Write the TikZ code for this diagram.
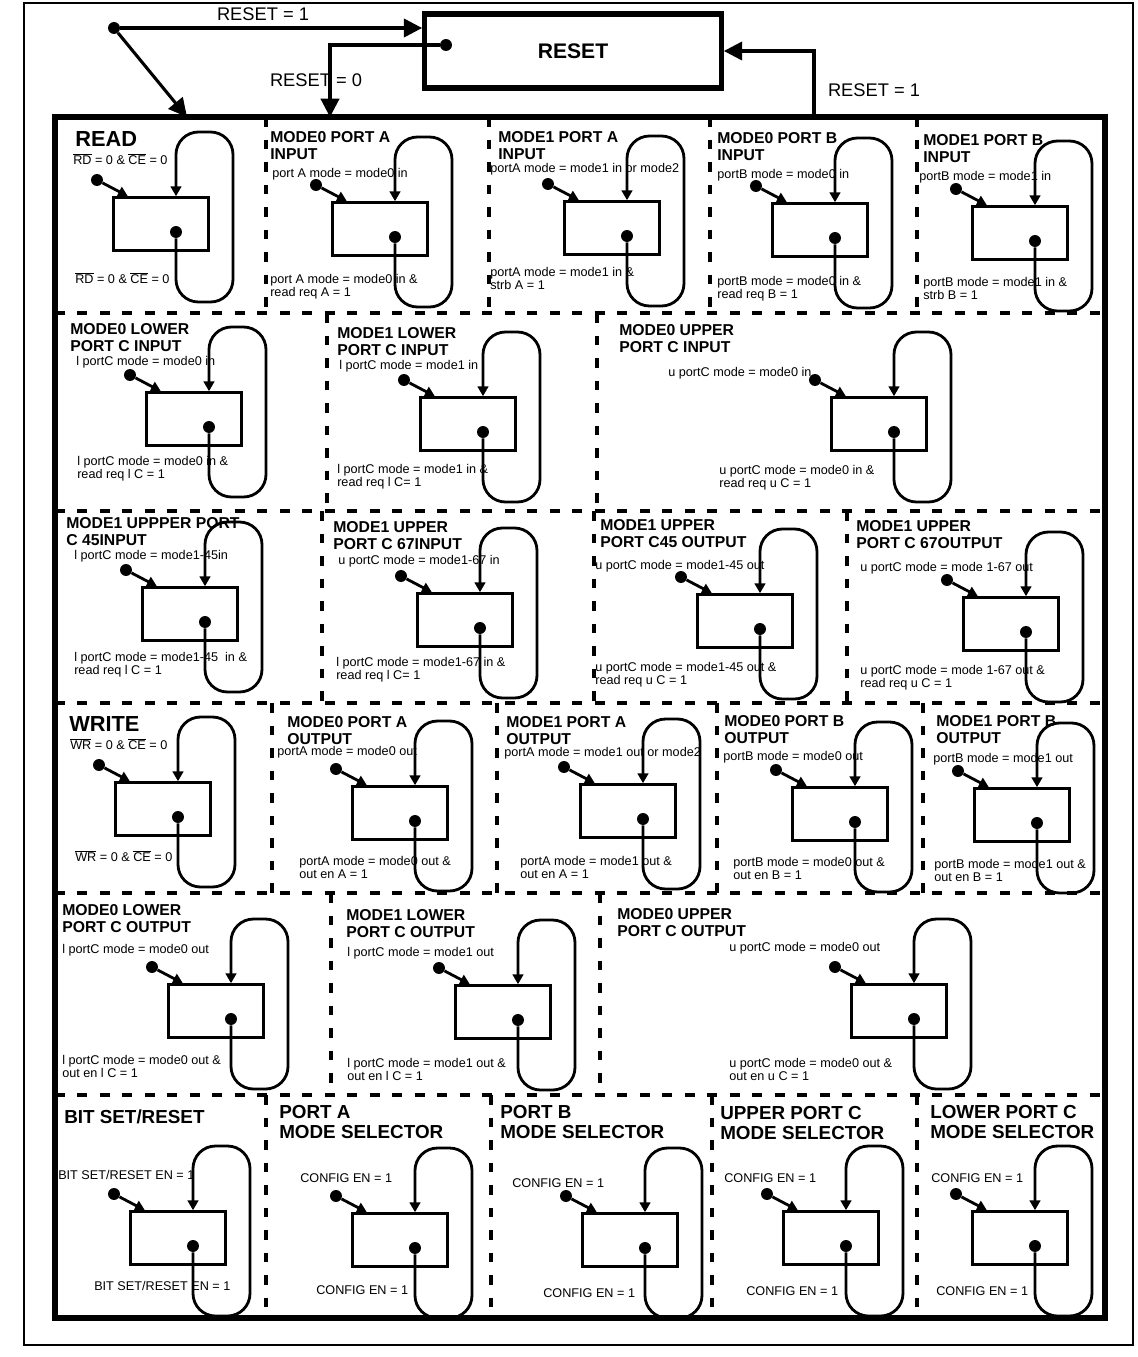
\documentclass[tikz,border=0pt]{standalone}
\usepackage{fontspec}
\setmainfont{Liberation Sans}
\usetikzlibrary{arrows.meta}
\begin{document}
\begin{tikzpicture}[x=0.025cm, y=-0.025cm, >={Triangle[length=7pt, width=7.5pt]},
    st/.style={draw, line width=2pt, minimum width=67.5pt, minimum height=37.5pt, inner sep=0pt},
    dot/.style={circle, fill, inner sep=0pt, minimum size=8.5pt},
    tr/.style={->, line width=2pt},
    lp/.style={tr, rounded corners=16pt},
    rarr/.style={-{Triangle[length=13pt, width=13pt]}, line width=2.2pt},
    cnd/.style={anchor=north west, inner sep=0pt, align=left, font=\fontsize{9}{9.5}\selectfont},
    ttl/.style={cnd, font=\bfseries\fontsize{11.2}{12}\selectfont},
    seltl/.style={cnd, font=\bfseries\fontsize{13.4}{14.2}\selectfont},
    hd/.style={cnd, font=\bfseries\fontsize{15.5}{16}\selectfont},
    rtag/.style={font=\fontsize{13}{13}\selectfont, inner sep=0pt},
    part/.style={line width=3.5pt, dash pattern=on 7pt off 9pt}]
  \useasboundingbox (0,0) rectangle (1138,1357);
  \draw[line width=1.2pt] (24,3) rectangle (1133,1345);
  \foreach \y in {313,511,703,893,1095} \draw[part] (55,\y) -- (1105,\y);
  \foreach \x in {266,489,710,917} \draw[part] (\x,117) -- (\x,313);
  \foreach \x in {327,597} \draw[part] (\x,313) -- (\x,511);
  \foreach \x in {322,594,847} \draw[part] (\x,511) -- (\x,703);
  \foreach \x in {272,497,717,923} \draw[part] (\x,703) -- (\x,893);
  \foreach \x in {331,600} \draw[part] (\x,893) -- (\x,1095);
  \foreach \x in {266,491,712,917} \draw[part] (\x,1095) -- (\x,1318);
  \draw[line width=3.6pt] (55,117) rectangle (1105,1318);

  \node[draw, line width=3.6pt, minimum width=211pt, minimum height=52.6pt,
        font=\bfseries\fontsize{15}{15}\selectfont] (rst) at (573,51) {RESET};
  \node[dot] (r0) at (446,45) {};
  \node[dot] (r1) at (114,28) {};
  \coordinate (f1) at (187,117);
  \coordinate (f2) at (330,117);
  \coordinate (f3) at (814,117);
  \draw[rarr] (r1) -- (r1 -| rst.west);
  \draw[rarr] (r1) -- (f1);
  \draw[rarr] (r0) -| (f2);
  \draw[rarr] (f3) |- (rst.east);
  \node[rtag] (g1) at (263,14) {RESET = 1};
  \node[rtag] (g2) at (316,80) {RESET = 0};
  \node[rtag] (g3) at (874,90) {RESET = 1};

  \foreach \n/\x/\y in {1/161/224, 2/380/229, 3/612/228, 4/820/230, 5/1020/233,
      6/194/419, 7/468/424, 8/879/424, 9/190/614, 10/465/620, 11/745/621, 12/1011/624,
      13/163/809, 14/400/813, 15/628/811, 16/840/814, 17/1022/815,
      18/216/1011, 19/503/1012, 20/899/1011,
      21/178/1238, 22/400/1240, 23/630/1240, 24/831/1238, 25/1020/1238}{
    \node[st] (s\n) at (\x,\y) {};
    \node[dot] (e\n) at (\x-64,\y-44) {};
    \node[dot] (i\n) at (\x+15,\y+8) {};
    \draw[tr] (e\n) -- (s\n.140);
    \draw[lp] (i\n) -- ++(0,70) -- ++(57,0) -- ++(0,-170) -- ++(-57,0) -- (i\n |- s\n.north);
  }

  \node[hd] (t1) at (75,131) {READ};
  \node[cnd] (a1) at (73,153) {$\overline{\mbox{RD}}$ = 0 \& $\overline{\mbox{CE}}$ = 0};
  \node[cnd] (b1) at (75,272) {$\overline{\mbox{RD}}$ = 0 \& $\overline{\mbox{CE}}$ = 0};
  \node[ttl] (t2) at (270,131) {MODE0 PORT A\\INPUT};
  \node[cnd] (a2) at (272,168) {port A mode = mode0 in};
  \node[cnd] (b2) at (270,274) {port A mode = mode0 in \&\\read req A = 1};
  \node[ttl] (t3) at (498,131) {MODE1 PORT A\\INPUT};
  \node[cnd] (a3) at (490,163) {portA mode = mode1 in or mode2};
  \node[cnd] (b3) at (490,267) {portA mode = mode1 in \&\\strb A = 1};
  \node[ttl] (t4) at (717,132) {MODE0 PORT B\\INPUT};
  \node[cnd] (a4) at (717,169) {portB mode = mode0 in};
  \node[cnd] (b4) at (717,276) {portB mode = mode0 in \&\\read req B = 1};
  \node[ttl] (t5) at (923,134) {MODE1 PORT B\\INPUT};
  \node[cnd] (a5) at (919,171) {portB mode = mode1 in};
  \node[cnd] (b5) at (923,277) {portB mode = mode1 in \&\\strb B = 1};

  \node[ttl] (t6) at (70,323) {MODE0 LOWER\\PORT C INPUT};
  \node[cnd] (a6) at (76,356) {l portC mode = mode0 in};
  \node[cnd] (b6) at (77,456) {l portC mode = mode0 in \&\\read req l C = 1};
  \node[ttl] (t7) at (337,327) {MODE1 LOWER\\PORT C INPUT};
  \node[cnd] (a7) at (339,360) {l portC mode = mode1 in};
  \node[cnd] (b7) at (337,464) {l portC mode = mode1 in \&\\read req l C= 1};
  \node[ttl] (t8) at (619,324) {MODE0 UPPER\\PORT C INPUT};
  \node[cnd] (a8) at (668,367) {u portC mode = mode0 in};
  \node[cnd] (b8) at (719,465) {u portC mode = mode0 in \&\\read req u C = 1};

  \node[ttl] (t9) at (66,517) {MODE1 UPPPER PORT\\C 45INPUT};
  \node[cnd] (a9) at (74,550) {l portC mode = mode1-45in};
  \node[cnd] (b9) at (74,652) {l portC mode = mode1-45 \ in \&\\read req l C = 1};
  \node[ttl] (t10) at (333,521) {MODE1 UPPER\\PORT C 67INPUT};
  \node[cnd] (a10) at (338,555) {u portC mode = mode1-67 in};
  \node[cnd] (b10) at (336,657) {l portC mode = mode1-67 in \&\\read req l C= 1};
  \node[ttl] (t11) at (600,519) {MODE1 UPPER\\PORT C45 OUTPUT};
  \node[cnd] (a11) at (595,560) {u portC mode = mode1-45 out};
  \node[cnd] (b11) at (595,662) {u portC mode = mode1-45 out \&\\read req u C = 1};
  \node[ttl] (t12) at (856,520) {MODE1 UPPER\\PORT C 67OUTPUT};
  \node[cnd] (a12) at (860,562) {u portC mode = mode 1-67 out};
  \node[cnd] (b12) at (860,665) {u portC mode = mode 1-67 out \&\\read req u C = 1};

  \node[hd] (t13) at (69,716) {WRITE};
  \node[cnd] (a13) at (70,738) {$\overline{\mbox{WR}}$ = 0 \& $\overline{\mbox{CE}}$ = 0};
  \node[cnd] (b13) at (75,850) {$\overline{\mbox{WR}}$ = 0 \& $\overline{\mbox{CE}}$ = 0};
  \node[ttl] (t14) at (287,716) {MODE0 PORT A\\OUTPUT};
  \node[cnd] (a14) at (277,746) {portA mode = mode0 out};
  \node[cnd] (b14) at (299,856) {portA mode = mode0 out \&\\out en A = 1};
  \node[ttl] (t15) at (506,716) {MODE1 PORT A\\OUTPUT};
  \node[cnd] (a15) at (504,747) {portA mode = mode1 out or mode2};
  \node[cnd] (b15) at (520,856) {portA mode = mode1 out \&\\out en A = 1};
  \node[ttl] (t16) at (724,715) {MODE0 PORT B\\OUTPUT};
  \node[cnd] (a16) at (723,751) {portB mode = mode0 out};
  \node[cnd] (b16) at (733,857) {portB mode = mode0 out \&\\out en B = 1};
  \node[ttl] (t17) at (936,715) {MODE1 PORT B\\OUTPUT};
  \node[cnd] (a17) at (933,753) {portB mode = mode1 out};
  \node[cnd] (b17) at (934,859) {portB mode = mode1 out \&\\out en B = 1};

  \node[ttl] (t18) at (62,904) {MODE0 LOWER\\PORT C OUTPUT};
  \node[cnd] (a18) at (62,944) {l portC mode = mode0 out};
  \node[cnd] (b18) at (62,1055) {l portC mode = mode0 out \&\\out en l C = 1};
  \node[ttl] (t19) at (346,909) {MODE1 LOWER\\PORT C OUTPUT};
  \node[cnd] (a19) at (347,947) {l portC mode = mode1 out};
  \node[cnd] (b19) at (347,1058) {l portC mode = mode1 out \&\\out en l C = 1};
  \node[ttl] (t20) at (617,908) {MODE0 UPPER\\PORT C OUTPUT};
  \node[cnd] (a20) at (729,942) {u portC mode = mode0 out};
  \node[cnd] (b20) at (729,1058) {u portC mode = mode0 out \&\\out en u C = 1};

  \node[seltl] (t21) at (64,1110) {BIT SET/RESET};
  \node[cnd] (a21) at (58,1170) {BIT SET/RESET EN = 1};
  \node[cnd] (b21) at (94,1281) {BIT SET/RESET EN = 1};
  \node[seltl] (t22) at (279,1105) {PORT A\\MODE SELECTOR};
  \node[cnd] (a22) at (300,1173) {CONFIG EN = 1};
  \node[cnd] (b22) at (316,1285) {CONFIG EN = 1};
  \node[seltl] (t23) at (500,1105) {PORT B\\MODE SELECTOR};
  \node[cnd] (a23) at (512,1178) {CONFIG EN = 1};
  \node[cnd] (b23) at (543,1288) {CONFIG EN = 1};
  \node[seltl] (t24) at (720,1106) {UPPER PORT C\\MODE SELECTOR};
  \node[cnd] (a24) at (724,1173) {CONFIG EN = 1};
  \node[cnd] (b24) at (746,1286) {CONFIG EN = 1};
  \node[seltl] (t25) at (930,1105) {LOWER PORT C\\MODE SELECTOR};
  \node[cnd] (a25) at (931,1173) {CONFIG EN = 1};
  \node[cnd] (b25) at (936,1286) {CONFIG EN = 1};
\end{tikzpicture}
\end{document}
